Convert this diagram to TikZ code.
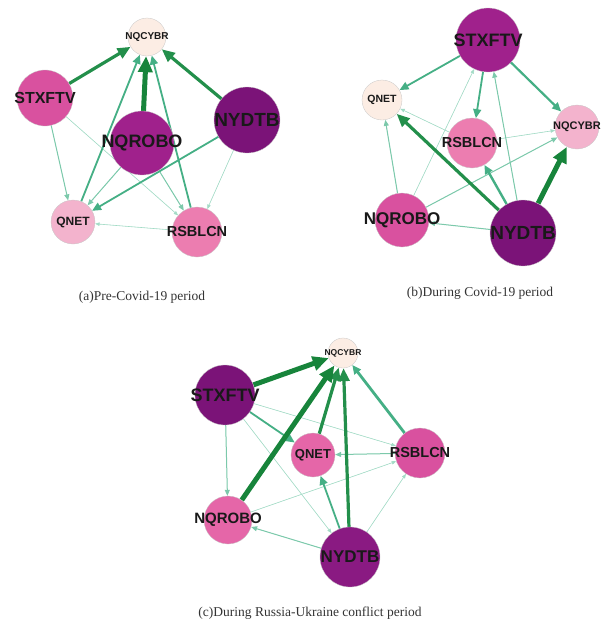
\documentclass[tikz,border=0pt]{standalone}
\usepackage{fontspec}
\setmainfont{Liberation Serif}
\newfontfamily\labfont{Liberation Sans}
\usetikzlibrary{arrows.meta,backgrounds}
\definecolor{peach}{HTML}{FCEDE4}
\definecolor{pinkL}{HTML}{F3B3CD}
\definecolor{pinkS}{HTML}{EC7DB0}
\definecolor{pinkH}{HTML}{E566A8}
\definecolor{pinkM}{HTML}{D9519F}
\definecolor{purpleM}{HTML}{A0218C}
\definecolor{purple}{HTML}{8A1A82}
\definecolor{purpleD}{HTML}{7B1378}
\definecolor{eLight}{HTML}{A3DBC6}
\definecolor{eThin}{HTML}{7CC9AB}
\definecolor{eMid}{HTML}{45AF85}
\definecolor{eDark}{HTML}{238F4B}
\definecolor{eHeavy}{HTML}{17843B}
\begin{document}
\begin{tikzpicture}[x=1pt,y=-1pt,
  vtx/.style={circle,draw=black!22,line width=0.3pt,inner sep=0pt},
  lab/.style={font=\labfont\bfseries\fontsize{#1}{#1}\selectfont,text=black!90,inner sep=0pt},
  caption/.style={font=\fontsize{13.5}{13.5}\selectfont,text=black!80},
  faint/.style={-{Triangle[length=4.5pt,width=3.5pt]},line width=0.6pt,draw=eLight,fill=eLight},
  light/.style={-{Triangle[length=6pt,width=5pt]},line width=1pt,draw=eThin,fill=eThin},
  mid/.style={-{Triangle[length=9pt,width=8pt]},line width=1.8pt,draw=eMid,fill=eMid},
  strong/.style={-{Triangle[length=13pt,width=11pt]},line width=3.2pt,draw=eDark,fill=eDark},
  heavy/.style={-{Triangle[length=16pt,width=14pt]},line width=5pt,draw=eHeavy,fill=eHeavy}]
\useasboundingbox (0,0) rectangle (600,621);

% (a) pre-covid
\node[vtx,fill=peach,minimum size=38pt,label={[lab=10]center:NQCYBR}] (nqcybrA) at (147,37) {};
\node[vtx,fill=pinkM,minimum size=56pt,label={[lab=16]center:STXFTV}] (stxftvA) at (45,98) {};
\node[vtx,fill=purpleM,minimum size=64pt,label={[lab=18]center:NQROBO}] (nqroboA) at (142,143) {};
\node[vtx,fill=purpleD,minimum size=66pt,label={[lab=19]center:NYDTB}] (nydtbA) at (247,120) {};
\node[vtx,fill=pinkL,minimum size=44pt,label={[lab=12]center:QNET}] (qnetA) at (73,222) {};
\node[vtx,fill=pinkS,minimum size=50pt,label={[lab=14.5]center:RSBLCN}] (rsblcnA) at (197,232) {};
\node[caption] (capA) at (142,297) {(a)Pre-Covid-19 period};

% (b) during covid
\node[vtx,fill=purpleM,minimum size=64pt,label={[lab=18]center:STXFTV}] (stxftvB) at (488,40) {};
\node[vtx,fill=peach,minimum size=40pt,label={[lab=10.5]center:QNET}] (qnetB) at (382,100) {};
\node[vtx,fill=pinkL,minimum size=44pt,label={[lab=11]center:NQCYBR}] (nqcybrB) at (577,127) {};
\node[vtx,fill=pinkS,minimum size=50pt,label={[lab=14.5]center:RSBLCN}] (rsblcnB) at (472,143) {};
\node[vtx,fill=pinkM,minimum size=54pt,label={[lab=17]center:NQROBO}] (nqroboB) at (402,220) {};
\node[vtx,fill=purpleD,minimum size=66pt,label={[lab=19]center:NYDTB}] (nydtbB) at (523,233) {};
\node[caption] (capB) at (480,293) {(b)During Covid-19 period};

% (c) russia-ukraine
\node[vtx,fill=peach,minimum size=30pt,label={[lab=8.5]center:NQCYBR}] (nqcybrC) at (343,353) {};
\node[vtx,fill=purpleD,minimum size=60pt,label={[lab=18]center:STXFTV}] (stxftvC) at (225,395) {};
\node[vtx,fill=pinkH,minimum size=44pt,label={[lab=13]center:QNET}] (qnetC) at (313,455) {};
\node[vtx,fill=pinkM,minimum size=50pt,label={[lab=14.5]center:RSBLCN}] (rsblcnC) at (420,453) {};
\node[vtx,fill=pinkH,minimum size=48pt,label={[lab=15]center:NQROBO}] (nqroboC) at (228,520) {};
\node[vtx,fill=purple,minimum size=60pt,label={[lab=17]center:NYDTB}] (nydtbC) at (350,557) {};
\node[caption] (capC) at (310,613) {(c)During Russia-Ukraine conflict period};

\begin{scope}[on background layer]
% edges (a)
\draw[faint] (stxftvA) -- (rsblcnA);
\draw[faint] (nydtbA) -- (rsblcnA);
\draw[faint] (rsblcnA) -- (qnetA);
\draw[light] (stxftvA) -- (qnetA);
\draw[light] (nqroboA) -- (qnetA);
\draw[light] (nqroboA) -- (rsblcnA);
\draw[mid] (nydtbA) -- (qnetA);
\draw[mid] (qnetA) -- (nqcybrA);
\draw[mid] (rsblcnA) -- (nqcybrA);
\draw[strong] (stxftvA) -- (nqcybrA);
\draw[strong] (nydtbA) -- (nqcybrA);
\draw[heavy] (nqroboA) -- (nqcybrA);
% edges (b)
\draw[faint] (nqroboB) -- (stxftvB);
\draw[faint] (rsblcnB) -- (qnetB);
\draw[faint] (rsblcnB) -- (nqcybrB);
\draw[light] (nqroboB) -- (nqcybrB);
\draw[light] (nydtbB) -- (stxftvB);
\draw[light] (nqroboB) -- (qnetB);
\draw[light] (nydtbB) -- (nqroboB);
\draw[mid] (stxftvB) -- (qnetB);
\draw[mid] (stxftvB) -- (rsblcnB);
\draw[mid,line width=2.2pt] (stxftvB) -- (nqcybrB);
\draw[mid,line width=2.4pt] (nydtbB) -- (rsblcnB);
\draw[strong] (nydtbB) -- (qnetB);
\draw[heavy] (nydtbB) -- (nqcybrB);
% edges (c)
\draw[faint] (stxftvC) -- (rsblcnC);
\draw[faint] (nqroboC) -- (rsblcnC);
\draw[faint] (stxftvC) -- (nydtbC);
\draw[faint] (nydtbC) -- (rsblcnC);
\draw[light] (stxftvC) -- (nqroboC);
\draw[light] (nydtbC) -- (nqroboC);
\draw[light] (rsblcnC) -- (qnetC);
\draw[mid] (stxftvC) -- (qnetC);
\draw[mid] (nydtbC) -- (qnetC);
\draw[mid,line width=2.8pt] (rsblcnC) -- (nqcybrC);
\draw[strong] (qnetC) -- (nqcybrC);
\draw[strong] (nydtbC) -- (nqcybrC);
\draw[heavy] (stxftvC) -- (nqcybrC);
\draw[heavy] (nqroboC) -- (nqcybrC);
\end{scope}
\end{tikzpicture}
\end{document}
